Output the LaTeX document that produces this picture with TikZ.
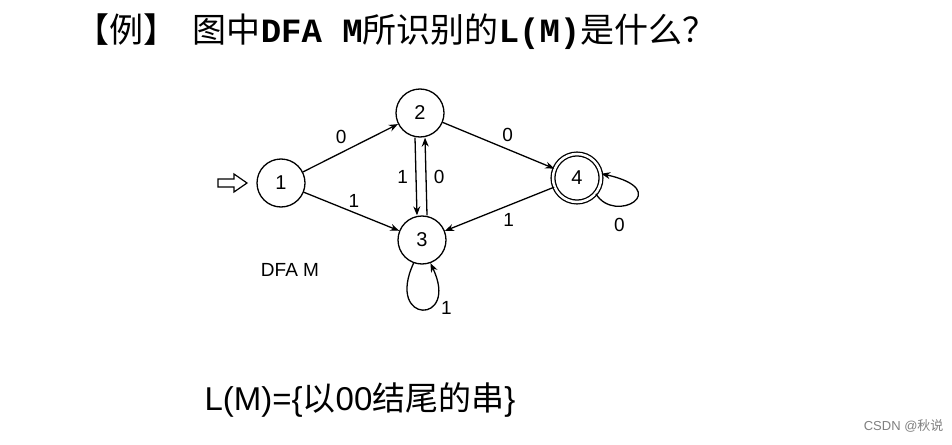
\documentclass[tikz,border=0pt]{standalone}
\usepackage{fontspec}
\setmainfont{Liberation Sans}
\newfontfamily\cjk{Noto Sans CJK SC}
\newfontfamily\ttl{Liberation Mono}
\usetikzlibrary{arrows.meta}
\begin{document}
\begin{tikzpicture}[x=1pt,y=-1pt,
  st/.style={circle,draw,line width=1.3pt,minimum size=48pt,inner sep=0pt,font=\fontsize{20}{24}\selectfont},
  acc/.style={st,double,double distance=2.5pt},
  tr/.style={-{Stealth[length=9pt,width=7pt]},line width=1.3pt},
  lb/.style={font=\fontsize{19}{22}\selectfont}]
\fill[white] (0,0) rectangle (952,444);
\useasboundingbox (0,0) rectangle (952,444);
\node[anchor=west,font=\cjk\fontsize{34}{40}\selectfont] (title) at (72,32) {【例】\ \ 图中{\ttl\bfseries DFA M}所识别的{\ttl\bfseries L(M)}是什么？};
\node[st] (n1) at (281,183) {1};
\node[st] (n2) at (420,113) {2};
\node[st] (n3) at (422,240) {3};
\node[acc] (n4) at (577,178) {4};
\draw[line width=1.2pt] (218,179) -- (234,179) -- (234,174) -- (247,183) -- (234,192) -- (234,187) -- (218,187) -- cycle;
\draw[tr] (n1) -- node[lb,above left=0pt] {0} (n2);
\draw[tr] (n1) -- node[lb,above right=-2pt,pos=0.45] {1} (n3);
\draw[tr] (n2) -- node[lb,above right=0pt] {0} (n4);
\draw[tr] (n4) -- node[lb,below right=0pt] {1} (n3);
\draw[tr] ([xshift=-5pt]n2.south) -- node[lb,left=4pt] {1} ([xshift=-5pt]n3.north);
\draw[tr] ([xshift=5pt]n3.north) -- node[lb,right=4pt] {0} ([xshift=5pt]n2.south);
\draw[tr] (n3.250) .. controls (385,325) and (460,325) .. node[lb,right=8pt,pos=0.6] {1} (n3.290);
\draw[tr] (n4.320) .. controls (615,225) and (675,190) .. node[lb,below=8pt,pos=0.3] {0} (n4.10);
\node[font=\fontsize{19}{22}\selectfont] (dfa) at (290,270) {DFA M};
\node[font=\fontsize{33}{38}\selectfont] (lm) at (360,400) {L(M)=\{{\cjk 以}00{\cjk 结尾的串}\}};
\node[anchor=east,text=gray,font=\fontsize{13}{15}\selectfont] (wm) at (947,426) {CSDN @{\cjk 秋说}};
\end{tikzpicture}
\end{document}
